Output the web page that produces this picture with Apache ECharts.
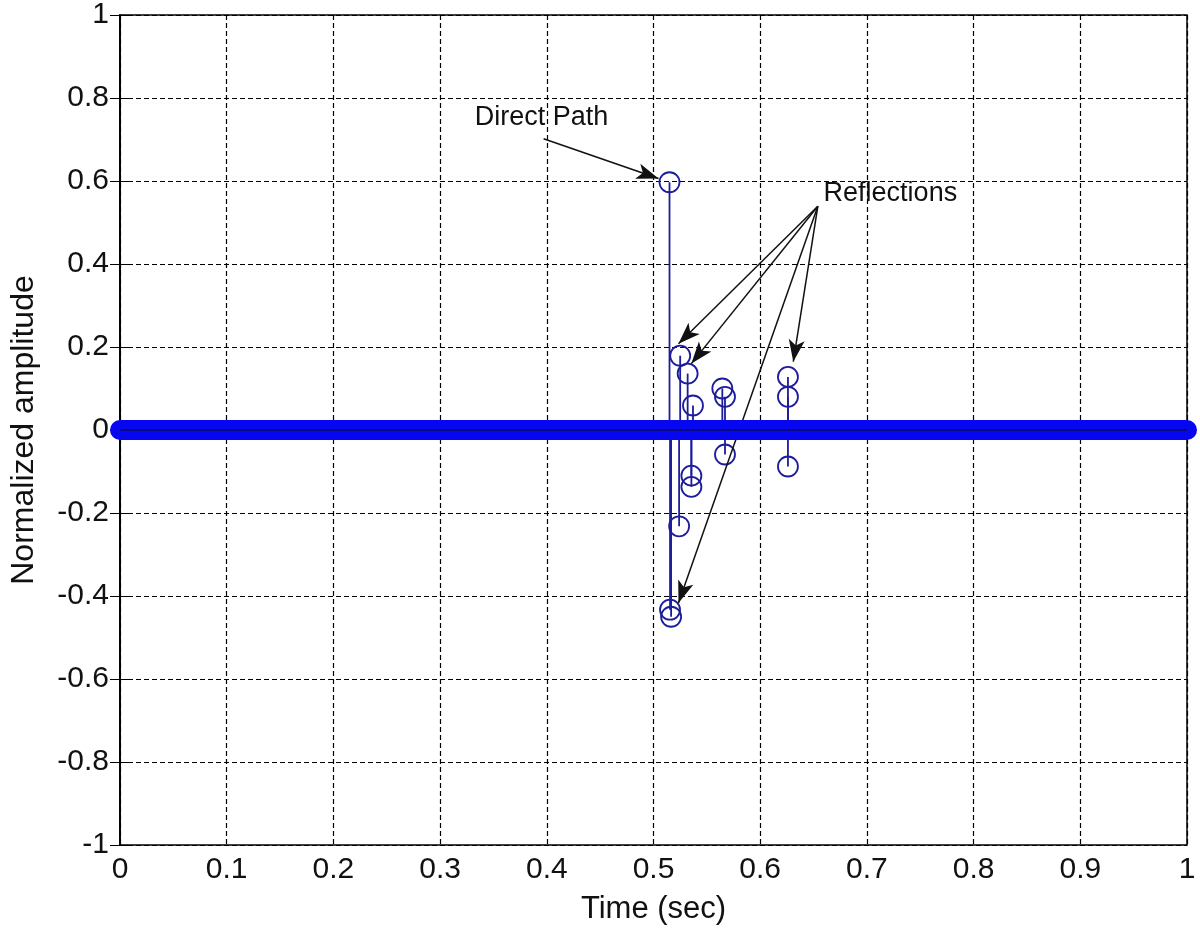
<!DOCTYPE html>
<html>
<head>
<meta charset="utf-8">
<script src="https://cdn.jsdelivr.net/npm/echarts@6/dist/echarts.min.js"></script>
<style>
html,body{margin:0;padding:0;background:#fff;}
#chart{width:1200px;height:930px;}
</style>
</head>
<body>
<div id="chart"></div>
<script>
// ---- data ----
const stemTimes  = [0.515, 0.5155, 0.5165, 0.525, 0.524, 0.532, 0.537, 0.5355, 0.5355, 0.5645, 0.567, 0.567, 0.626, 0.626, 0.626];
const stemValues = [0.597, -0.433, -0.45, 0.179, -0.232, 0.136, 0.059, -0.11, -0.137, 0.1, 0.08, -0.059, 0.128, 0.08, -0.088];
const baselineTimes  = [0, 1];
const baselineValues = [0, 0];
const xTicks = [0, 0.1, 0.2, 0.3, 0.4, 0.5, 0.6, 0.7, 0.8, 0.9, 1];
const yTicks = [-1, -0.8, -0.6, -0.4, -0.2, 0, 0.2, 0.4, 0.6, 0.8, 1];
const annotationNames = ['Direct Path', 'Reflections'];
const annotationPos   = [[0.395, 0.752], [0.722, 0.57]];
const directArrowFrom = [0.397, 0.702];
const directArrowTo   = [[0.5047, 0.606]];
const reflArrowFrom   = [0.654, 0.539];
const reflArrowTo     = [[0.5234, 0.2077], [0.5355, 0.16], [0.631, 0.1645], [0.5234, -0.4166]];

// ---- chart ----
const FONT = 'Liberation Sans';
const STEM = '#1c1c9c';
const chart = echarts.init(document.getElementById('chart'), null, {renderer: 'canvas'});

const pts = stemTimes.map((t, i) => [t, stemValues[i]]);
const base = baselineTimes.map((t, i) => [t, baselineValues[i]]);
const arrows = [];
directArrowTo.forEach(p => arrows.push([{coord: directArrowFrom}, {coord: p}]));
reflArrowTo.forEach(p => arrows.push([{coord: reflArrowFrom}, {coord: p}]));

const gridLine = {show: true, lineStyle: {color: '#000', type: [5, 3], width: 1.2}};
const xBase = {type: 'value', min: 0, max: 1, interval: 0.1};
const yBase = {type: 'value', min: -1, max: 1, interval: 0.2};
const fmt = ticks => v => String(ticks.find(t => Math.abs(t - v) < 1e-9) ?? v);

chart.setOption({
  animation: false,
  backgroundColor: '#fff',
  grid: {left: 117, right: 13, top: 15, bottom: 82, show: true, borderColor: '#000', borderWidth: 1.5},
  xAxis: [
    Object.assign({}, xBase, {
      position: 'bottom',
      name: 'Time (sec)', nameLocation: 'middle', nameGap: 49,
      nameTextStyle: {fontFamily: FONT, fontSize: 31, color: '#111'},
      axisLine: {show: true, lineStyle: {color: '#000', width: 1.5}},
      axisTick: {show: true, inside: true, length: 10, lineStyle: {color: '#000'}},
      axisLabel: {fontFamily: FONT, fontSize: 30, color: '#111', margin: 10, formatter: fmt(xTicks)},
      splitLine: gridLine
    }),
    Object.assign({}, xBase, {
      position: 'top',
      axisLine: {show: true, lineStyle: {color: '#000', width: 1.5}},
      axisTick: {show: true, inside: true, length: 10, lineStyle: {color: '#000'}},
      axisLabel: {show: false}, splitLine: {show: false}
    })
  ],
  yAxis: [
    Object.assign({}, yBase, {
      position: 'left',
      name: 'Normalized amplitude', nameLocation: 'middle', nameGap: 80, nameRotate: 90,
      nameTextStyle: {fontFamily: FONT, fontSize: 32, color: '#111'},
      axisLine: {show: true, lineStyle: {color: '#000', width: 1.5}},
      axisTick: {show: true, inside: true, length: 10, lineStyle: {color: '#000'}},
      axisLabel: {fontFamily: FONT, fontSize: 30, color: '#111', margin: 11, formatter: fmt(yTicks)},
      splitLine: gridLine
    }),
    Object.assign({}, yBase, {
      position: 'right',
      axisLine: {show: true, lineStyle: {color: '#000', width: 1.5}},
      axisTick: {show: true, inside: true, length: 10, lineStyle: {color: '#000'}},
      axisLabel: {show: false}, splitLine: {show: false}
    })
  ],
  series: [
    {
      name: 'stems', type: 'custom', z: 3,
      data: pts,
      renderItem: function (params, api) {
        const x = api.value(0), y = api.value(1);
        const p0 = api.coord([x, 0]), p1 = api.coord([x, y]);
        return {type: 'line', shape: {x1: p0[0], y1: p0[1], x2: p1[0], y2: p1[1]},
          style: {stroke: STEM, lineWidth: 1.8}};
      }
    },
    {
      name: 'markers', type: 'scatter', z: 4,
      data: pts, symbol: 'circle', symbolSize: 20,
      itemStyle: {color: 'rgba(0,0,0,0)', borderColor: STEM, borderWidth: 1.8, opacity: 1}
    },
    {
      name: 'baseline', type: 'line', z: 5, clip: false,
      data: base, symbol: 'none',
      lineStyle: {color: '#0606f0', width: 20, cap: 'round'}
    },
    {
      name: 'baselineCenter', type: 'line', z: 6, clip: false,
      data: base, symbol: 'none',
      lineStyle: {color: '#0a0a80', width: 2}
    },
    {
      name: 'annotations', type: 'scatter', z: 10,
      data: annotationNames.map((n, i) => ({name: n, value: annotationPos[i]})),
      symbolSize: 0,
      itemStyle: {opacity: 1},
      label: {show: true, position: 'inside', formatter: '{b}', fontFamily: FONT, fontSize: 27, color: '#111', opacity: 1},
      markLine: {
        silent: true, symbol: ['none', 'arrow'], symbolSize: [12, 22],
        label: {show: false},
        lineStyle: {color: '#111', width: 1.5, type: 'solid', opacity: 1},
        data: arrows
      }
    }
  ]
});
</script>
</body>
</html>
